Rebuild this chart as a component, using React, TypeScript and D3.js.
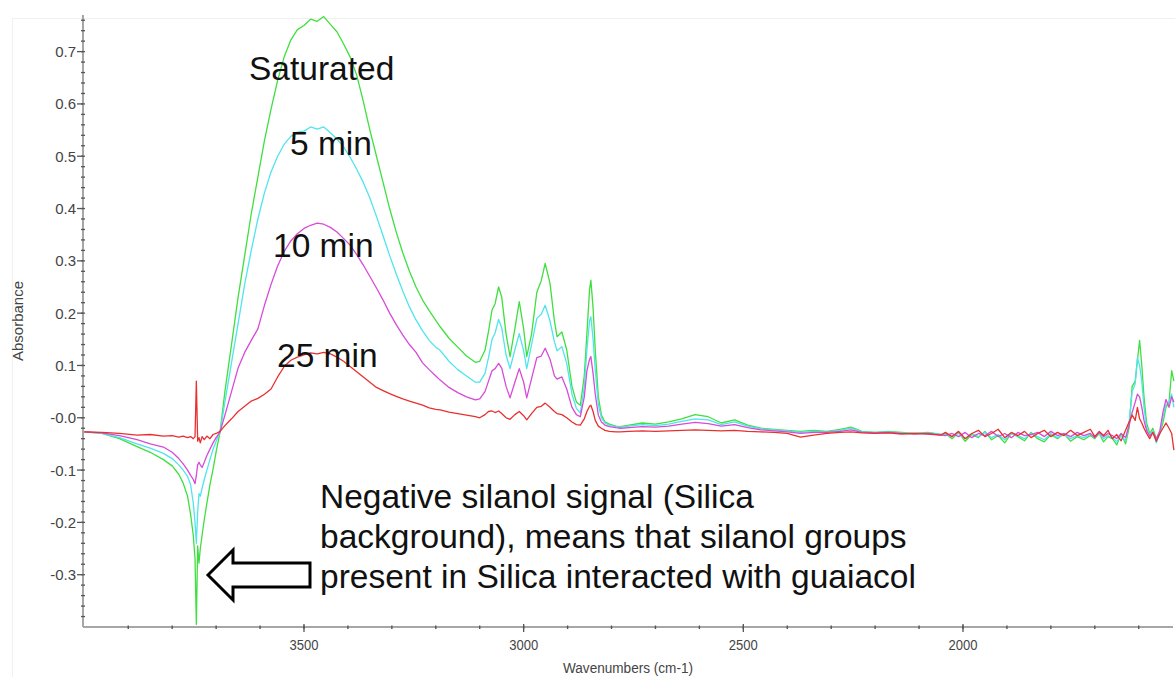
import React from "react";
import * as d3 from "d3";

// ---------- data ----------
const wavenumbers = [
  4000, 3960, 3920, 3880, 3850, 3820, 3800, 3785, 3775, 3765, 3758, 3752, 3748, 3745, 3742, 3739, 3736, 3732, 3727, 3721, 3714, 3707, 3700, 3691,
  3680, 3665, 3650, 3635, 3620, 3605, 3590, 3575, 3560, 3545, 3530, 3515, 3500, 3485, 3470, 3455, 3440, 3425, 3410, 3395, 3380, 3365, 3350, 3335, 3320, 3305, 3290, 3275, 3260, 3245, 3230, 3215, 3200,
  3190, 3170, 3150, 3130, 3110, 3100, 3088, 3080, 3072, 3065, 3057, 3050, 3040, 3031, 3020, 3010, 3000, 2993, 2982, 2970, 2960, 2951, 2940, 2930, 2924, 2913, 2902, 2890, 2880, 2871, 2862, 2856, 2850, 2847, 2842, 2837, 2830, 2823, 2815, 2805, 2790, 2780,
  2760, 2730, 2700, 2670, 2640, 2610, 2580, 2550, 2520, 2490, 2460, 2430, 2400, 2370, 2340, 2310, 2280, 2255, 2230, 2200, 2170, 2140, 2110, 2080, 2050,
  2040, 2025, 2010, 1995, 1980, 1965, 1950, 1935, 1920, 1905, 1890, 1875, 1860, 1845, 1830, 1815, 1800, 1785, 1770, 1755, 1740, 1725, 1710,
  1700, 1690, 1680, 1670, 1660, 1650, 1640, 1630,
  1622, 1615, 1608, 1603, 1598, 1593, 1588, 1582, 1575, 1568, 1560, 1552, 1545, 1538, 1531, 1525, 1520,
];

const saturated = [
  -0.027, -0.030, -0.040, -0.055, -0.066, -0.080, -0.092, -0.108, -0.125, -0.150, -0.185, -0.225, -0.270, -0.395, -0.245, -0.278, -0.250, -0.225, -0.195, -0.163, -0.128, -0.098, -0.065, -0.027,
  0.050, 0.140, 0.230, 0.310, 0.390, 0.460, 0.530, 0.590, 0.645, 0.690, 0.722, 0.742, 0.750, 0.762, 0.758, 0.767, 0.752, 0.738, 0.715, 0.690, 0.655, 0.605, 0.550, 0.500, 0.450, 0.400, 0.355, 0.315, 0.280, 0.250, 0.225, 0.205, 0.186,
  0.174, 0.152, 0.135, 0.118, 0.106, 0.108, 0.129, 0.165, 0.206, 0.218, 0.250, 0.231, 0.160, 0.117, 0.170, 0.222, 0.170, 0.117, 0.160, 0.240, 0.262, 0.295, 0.257, 0.185, 0.155, 0.164, 0.130, 0.060, 0.030, 0.024, 0.080, 0.161, 0.245, 0.263, 0.210, 0.129, 0.040, 0.005, -0.008, -0.012, -0.016, -0.017,
  -0.014, -0.010, -0.012, -0.008, -0.002, 0.006, 0.002, -0.010, -0.004, -0.014, -0.020, -0.022, -0.024, -0.026, -0.024, -0.026, -0.022, -0.018, -0.026, -0.028, -0.026, -0.028, -0.030, -0.028, -0.032,
  -0.030, -0.040, -0.028, -0.045, -0.032, -0.038, -0.026, -0.042, -0.034, -0.048, -0.030, -0.036, -0.044, -0.028, -0.040, -0.046, -0.032, -0.040, -0.030, -0.045, -0.036, -0.042, -0.034,
  -0.040, -0.030, -0.046, -0.036, -0.040, -0.052, -0.030, -0.050,
  -0.020, 0.060, 0.070, 0.110, 0.148, 0.100, 0.040, -0.010, -0.030, -0.020, -0.040, -0.030, -0.010, 0.020, 0.030, 0.090, 0.070,
];

const min5 = [
  -0.027, -0.030, -0.038, -0.050, -0.058, -0.068, -0.078, -0.090, -0.100, -0.112, -0.128, -0.163, -0.200, -0.240, -0.180, -0.145, -0.150, -0.135, -0.118, -0.100, -0.080, -0.060, -0.045, -0.027,
  0.030, 0.105, 0.180, 0.255, 0.320, 0.380, 0.430, 0.470, 0.500, 0.523, 0.538, 0.546, 0.548, 0.556, 0.552, 0.556, 0.545, 0.533, 0.518, 0.498, 0.475, 0.450, 0.420, 0.385, 0.348, 0.310, 0.275, 0.242, 0.212, 0.187, 0.166, 0.148, 0.135,
  0.129, 0.108, 0.092, 0.080, 0.068, 0.068, 0.085, 0.115, 0.150, 0.162, 0.188, 0.172, 0.120, 0.094, 0.130, 0.161, 0.128, 0.094, 0.140, 0.190, 0.198, 0.215, 0.185, 0.145, 0.128, 0.136, 0.104, 0.045, 0.018, 0.009, 0.060, 0.130, 0.185, 0.193, 0.150, 0.090, 0.025, 0.000, -0.010, -0.014, -0.017, -0.018,
  -0.016, -0.013, -0.015, -0.012, -0.007, -0.002, -0.004, -0.013, -0.008, -0.016, -0.021, -0.023, -0.025, -0.028, -0.026, -0.027, -0.024, -0.020, -0.027, -0.028, -0.027, -0.029, -0.030, -0.029, -0.032,
  -0.032, -0.036, -0.030, -0.040, -0.030, -0.036, -0.028, -0.038, -0.032, -0.042, -0.030, -0.034, -0.040, -0.030, -0.036, -0.042, -0.030, -0.038, -0.032, -0.040, -0.034, -0.038, -0.032,
  -0.036, -0.030, -0.040, -0.034, -0.038, -0.046, -0.034, -0.044,
  -0.010, 0.050, 0.065, 0.115, 0.100, 0.070, 0.020, -0.020, -0.032, -0.025, -0.048, -0.030, 0.000, 0.025, 0.030, 0.045, 0.020,
];

const min10 = [
  -0.027, -0.029, -0.034, -0.042, -0.050, -0.056, -0.066, -0.078, -0.088, -0.100, -0.110, -0.118, -0.126, -0.110, -0.090, -0.085, -0.090, -0.095, -0.085, -0.072, -0.060, -0.048, -0.038, -0.027,
  0.005, 0.050, 0.095, 0.125, 0.148, 0.170, 0.215, 0.255, 0.290, 0.318, 0.338, 0.352, 0.362, 0.368, 0.372, 0.370, 0.364, 0.355, 0.343, 0.330, 0.312, 0.292, 0.270, 0.248, 0.225, 0.200, 0.178, 0.158, 0.140, 0.125, 0.105, 0.092, 0.080,
  0.072, 0.058, 0.048, 0.040, 0.034, 0.036, 0.050, 0.070, 0.090, 0.094, 0.104, 0.095, 0.060, 0.038, 0.068, 0.094, 0.068, 0.038, 0.075, 0.115, 0.118, 0.133, 0.112, 0.080, 0.074, 0.078, 0.055, 0.020, 0.006, 0.002, 0.040, 0.090, 0.112, 0.117, 0.085, 0.045, 0.005, -0.008, -0.014, -0.017, -0.019, -0.020,
  -0.019, -0.017, -0.018, -0.016, -0.012, -0.009, -0.011, -0.016, -0.013, -0.019, -0.023, -0.025, -0.027, -0.030, -0.028, -0.028, -0.026, -0.023, -0.028, -0.029, -0.028, -0.030, -0.031, -0.030, -0.033,
  -0.034, -0.030, -0.036, -0.028, -0.038, -0.030, -0.034, -0.026, -0.036, -0.030, -0.038, -0.028, -0.034, -0.032, -0.028, -0.036, -0.026, -0.034, -0.030, -0.036, -0.028, -0.034, -0.030,
  -0.038, -0.028, -0.036, -0.030, -0.034, -0.040, -0.030, -0.038,
  -0.015, 0.010, 0.030, 0.045, 0.040, 0.020, -0.005, -0.025, -0.035, -0.028, -0.040, -0.025, 0.010, 0.035, 0.020, 0.040, 0.030,
];

const min25 = [
  -0.027, -0.028, -0.030, -0.033, -0.032, -0.035, -0.034, -0.037, -0.035, -0.038, -0.036, -0.040, -0.036, 0.070, -0.045, -0.038, -0.048, -0.036, -0.042, -0.035, -0.040, -0.032, -0.030, -0.026,
  -0.015, -0.002, 0.012, 0.022, 0.032, 0.037, 0.045, 0.055, 0.078, 0.098, 0.110, 0.116, 0.120, 0.124, 0.122, 0.125, 0.122, 0.116, 0.108, 0.098, 0.088, 0.078, 0.068, 0.058, 0.052, 0.046, 0.041, 0.036, 0.032, 0.028, 0.024, 0.019, 0.016,
  0.015, 0.011, 0.008, 0.005, 0.002, 0.000, 0.006, 0.012, 0.013, 0.010, 0.013, 0.008, 0.000, -0.003, 0.006, 0.012, 0.004, -0.004, 0.008, 0.020, 0.022, 0.028, 0.020, 0.012, 0.008, 0.006, 0.000, -0.008, -0.013, -0.014, -0.002, 0.012, 0.022, 0.024, 0.012, -0.005, -0.016, -0.020, -0.024, -0.026, -0.027, -0.027,
  -0.026, -0.025, -0.026, -0.025, -0.024, -0.023, -0.024, -0.025, -0.024, -0.026, -0.027, -0.028, -0.030, -0.037, -0.033, -0.030, -0.028, -0.027, -0.029, -0.030, -0.029, -0.031, -0.030, -0.031, -0.033,
  -0.028, -0.036, -0.026, -0.040, -0.030, -0.024, -0.036, -0.030, -0.022, -0.038, -0.028, -0.034, -0.026, -0.038, -0.030, -0.024, -0.036, -0.028, -0.034, -0.024, -0.034, -0.028, -0.022,
  -0.036, -0.026, -0.034, -0.024, -0.040, -0.032, -0.044, -0.024,
  -0.008, 0.005, -0.005, 0.020, -0.002, -0.010, -0.020, -0.030, -0.040, -0.028, -0.045, -0.030, -0.020, -0.010, -0.020, -0.030, -0.062,
];

const seriesNames = ["Saturated", "5 min", "10 min", "25 min"];
const yTickValues = [-0.3, -0.2, -0.1, 0, 0.1, 0.2, 0.3, 0.4, 0.5, 0.6, 0.7];
const yTickLabels = ["-0.3", "-0.2", "-0.1", "-0.0", "0.1", "0.2", "0.3", "0.4", "0.5", "0.6", "0.7"];
const xTickValues = [3500, 3000, 2500, 2000];
const xTickLabels = ["3500", "3000", "2500", "2000"];
const noteLines = [
  "Negative silanol signal (Silica",
  "background), means that silanol groups",
  "present in Silica interacted with guaiacol",
];

// ---------- styles / layout ----------
const COLORS = ["#3fdf3f", "#4fe4ee", "#d84ad8", "#e8302f"];
const LABEL_POS = [
  { x: 249, y: 80 },
  { x: 290, y: 155 },
  { x: 273, y: 257 },
  { x: 277, y: 367 },
];
const FONT = "'Liberation Sans', Arial, Helvetica, sans-serif";

export default function App() {
  const W = 1175;
  const H = 677;
  const left = 83, right = 1173, top = 15, bottom = 627;

  const x = d3.scaleLinear().domain([4003, 1522]).range([left, right]);
  const y = d3.scaleLinear().domain([-0.4, 0.77]).range([bottom, top]);

  const line = d3
    .line<number>()
    .x((_, i) => x(wavenumbers[i]))
    .y((d) => y(d));

  const series = [saturated, min5, min10, min25];
  const yMinor = d3.range(-19, 39).map((k) => k * 0.02);
  const xMinor = d3.range(39, 15, -1).map((k) => k * 100);

  const noteX = 320;
  const noteY = [508, 548, 588];

  const arrow = [
    [208, 575],
    [233, 550],
    [233, 563],
    [310, 563],
    [310, 587],
    [233, 587],
    [233, 600],
  ]
    .map((p) => p.join(","))
    .join(" ");

  return (
    <svg
      width={W}
      height={H}
      viewBox={`0 0 ${W} ${H}`}
      style={{ position: "absolute", left: 0, top: 0, background: "#fff" }}
      fontFamily={FONT}
    >
      <rect x={0} y={0} width={W} height={H} fill="#fff" />
      <rect x={12.5} y={18.5} width={W} height={H} fill="none" stroke="#f0f0f0" />

      {/* axes */}
      <line x1={left} x2={left} y1={top} y2={bottom} stroke="#a6a6a6" strokeWidth={2} />
      <line x1={left} x2={right} y1={bottom} y2={bottom} stroke="#a6a6a6" strokeWidth={2} />

      {yMinor.map((v, i) => (
        <line key={"ym" + i} x1={left - 2} x2={left + 2} y1={y(v)} y2={y(v)} stroke="#555" strokeWidth={1.3} />
      ))}
      {yTickValues.map((v, i) => (
        <g key={"yt" + i}>
          <line x1={left - 6} x2={left} y1={y(v)} y2={y(v)} stroke="#555" strokeWidth={1.3} />
          <text x={left - 7} y={y(v) + 5.5} textAnchor="end" fontSize={15} fill="#444">
            {yTickLabels[i]}
          </text>
        </g>
      ))}

      {xMinor.map((v, i) => (
        <line key={"xm" + i} x1={x(v)} x2={x(v)} y1={bottom - 1.5} y2={bottom + 2} stroke="#555" strokeWidth={1.4} />
      ))}
      {xTickValues.map((v, i) => (
        <g key={"xt" + i}>
          <line x1={x(v)} x2={x(v)} y1={bottom - 3} y2={bottom + 5} stroke="#555" strokeWidth={1.3} />
          <text
            x={x(v)}
            y={650}
            textAnchor="middle"
            fontSize={15}
            fill="#444"
            textLength={29}
            lengthAdjust="spacingAndGlyphs"
          >
            {xTickLabels[i]}
          </text>
        </g>
      ))}

      <text x={628} y={673} textAnchor="middle" fontSize={14} fill="#444" textLength={130} lengthAdjust="spacingAndGlyphs">
        Wavenumbers (cm-1)
      </text>
      <text transform="translate(23,321) rotate(-90)" textAnchor="middle" fontSize={15} fill="#444">
        Absorbance
      </text>

      {/* spectra */}
      {series.map((s, i) => (
        <path
          key={seriesNames[i]}
          d={line(s) || ""}
          fill="none"
          stroke={COLORS[i]}
          strokeWidth={1.3}
          strokeLinejoin="round"
        />
      ))}

      {/* annotations */}
      {seriesNames.map((name, i) => (
        <text key={"lab" + i} x={LABEL_POS[i].x} y={LABEL_POS[i].y} fontSize={33.5} fill="#111">
          {name}
        </text>
      ))}
      {noteLines.map((t, i) => (
        <text key={"note" + i} x={noteX} y={noteY[i]} fontSize={33.5} fill="#111">
          {t}
        </text>
      ))}
      <polygon points={arrow} fill="#fff" stroke="#000" strokeWidth={3} strokeLinejoin="miter" />
    </svg>
  );
}
